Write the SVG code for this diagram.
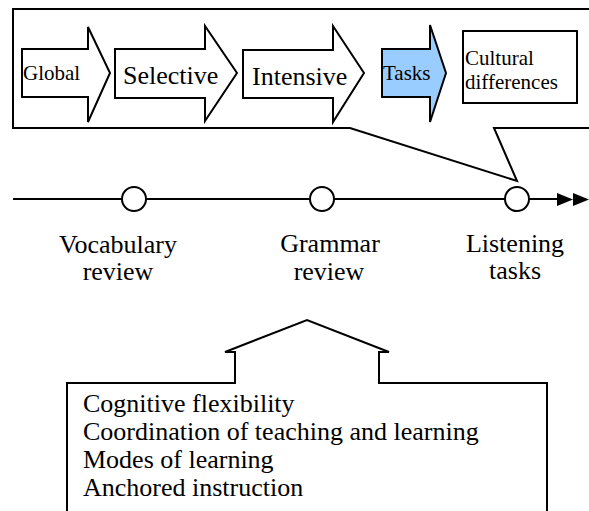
<svg xmlns="http://www.w3.org/2000/svg" width="589" height="511" viewBox="0 0 589 511">
<style>
.ln{fill:none;stroke:#000;stroke-width:2}
.sh{fill:#fff;stroke:#000;stroke-width:2;stroke-linejoin:miter}
text{font-family:'Liberation Serif','DejaVu Serif',serif;fill:#000}
.m{text-anchor:middle}
</style>
<rect width="589" height="511" fill="#fff"/>
<g id="callout-top">
<path class="sh" d="M 600,9 L 13,9 L 13,128 L 350,128 L 517,181 L 494,128 L 600,128"/>
</g>
<g id="arrow-global">
<path class="sh" d="M 22,49 L 88,49 L 88,27 L 110,73 L 88,122 L 88,97 L 22,97 Z"/>
<text x="23" y="80" font-size="21">Global</text>
</g>
<g id="arrow-selective">
<path class="sh" d="M 115,49 L 205,49 L 205,26 L 237,73 L 205,121 L 205,98 L 115,98 Z"/>
<text x="123" y="84" font-size="26">Selective</text>
</g>
<g id="arrow-intensive">
<path class="sh" d="M 243,50 L 333,50 L 333,26 L 364,73 L 333,122 L 333,98 L 243,98 Z"/>
<text x="252" y="85" font-size="26">Intensive</text>
</g>
<g id="arrow-tasks">
<path d="M 382,49 L 430,49 L 430,25 L 446,73 L 430,122 L 430,97 L 382,97 Z" fill="#99ccff" stroke="#000" stroke-width="2"/>
<text x="383" y="80" font-size="21">Tasks</text>
</g>
<g id="box-cultural">
<rect class="sh" x="463" y="31" width="114" height="72"/>
<text x="465" y="65" font-size="21">Cultural</text>
<text x="465" y="89" font-size="21">differences</text>
</g>
<g id="connectors">
<line class="ln" x1="13" y1="199" x2="560" y2="199"/>
<path d="M 557,193 L 573,199.5 L 557,206 Z M 573,193 L 589,199.5 L 573,206 Z" fill="#000"/>
</g>
<g id="milestone-vocabulary">
<circle class="sh" cx="134" cy="199" r="12"/>
<text class="m" x="118" y="253" font-size="26">Vocabulary</text>
<text class="m" x="118" y="280" font-size="26">review</text>
</g>
<g id="milestone-grammar">
<circle class="sh" cx="322" cy="199" r="12"/>
<text class="m" x="330" y="252" font-size="26">Grammar</text>
<text class="m" x="329" y="280" font-size="26">review</text>
</g>
<g id="milestone-listening">
<circle class="sh" cx="517" cy="199" r="12"/>
<text class="m" x="515" y="252" font-size="26">Listening</text>
<text class="m" x="515" y="279" font-size="26">tasks</text>
</g>
<g id="callout-bottom">
<path class="sh" d="M 67,520 L 67,383 L 235,383 L 235,352 L 225,352 L 307,320 L 389,352 L 379,352 L 379,383 L 547,383 L 547,520"/>
<text x="83" y="412" font-size="26">Cognitive flexibility</text>
<text x="83" y="440" font-size="26">Coordination of teaching and learning</text>
<text x="83" y="468" font-size="26">Modes of learning</text>
<text x="83" y="496" font-size="26">Anchored instruction</text>
</g>
</svg>
